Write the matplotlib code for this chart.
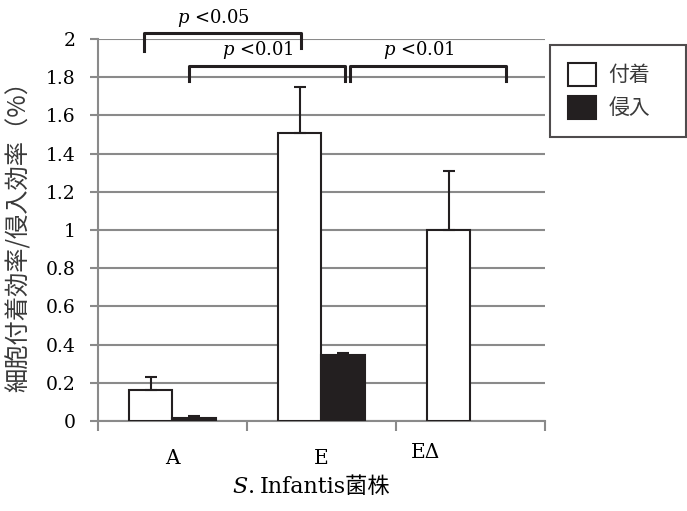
import numpy as np
import matplotlib
matplotlib.use("Agg")
import matplotlib.pyplot as plt
from matplotlib.patches import Patch

plt.rcParams['font.family'] = ['DejaVu Serif', 'Noto Sans CJK JP']
plt.rcParams['mathtext.fontset'] = 'dejavuserif'

# data
strains = ['A', 'E', 'EΔ']
adhesion = [0.165, 1.51, 1.0]
adhesion_err = [0.065, 0.24, 0.31]
invasion = [0.018, 0.344, np.nan]
invasion_err = [0.010, 0.010, np.nan]

# significance brackets: (x left, x right, y top, y legs, label)
brackets = [
    (-0.19, 0.865, 2.03, 1.94, '$p$ <0.05'),
    (0.11, 1.16, 1.86, 1.78, '$p$ <0.01'),
    (1.19, 2.24, 1.86, 1.78, '$p$ <0.01'),
]

grey = '#8a8a8a'
dark = '#231f20'

fig = plt.figure(figsize=(6.87, 5.11), dpi=100)
ax = fig.add_axes([0.1426, 0.176, 0.6507, 0.7475])

x = np.arange(len(strains))
w = 0.29
ax.bar(x - w / 2, adhesion, w, color='white', edgecolor=dark, linewidth=1.5, zorder=3)
ax.bar(x + w / 2, invasion, w, color=dark, edgecolor=dark, linewidth=1.5, zorder=3)
ax.errorbar(x - w / 2, adhesion, yerr=[np.zeros(3), adhesion_err], fmt='none',
            ecolor=dark, elinewidth=1.5, capsize=4.3, capthick=1.5, zorder=4)
ax.errorbar(x + w / 2, invasion, yerr=[np.zeros(3), invasion_err], fmt='none',
            ecolor=dark, elinewidth=1.5, capsize=4.3, capthick=1.5, zorder=4)

ax.set_xlim(-0.5, 2.5)
ax.set_ylim(0, 2)
yt = np.round(np.arange(0, 2.01, 0.2), 1)
ax.set_yticks(yt)
ax.set_yticklabels(['%g' % v for v in yt])
ax.set_xticks([-0.5, 0.5, 1.5, 2.5])
ax.set_xticklabels([])
ax.yaxis.grid(True, color=grey, linewidth=1.5, zorder=0)
ax.set_axisbelow(True)
for s in ['top', 'right']:
    ax.spines[s].set_visible(False)
for s in ['left', 'bottom']:
    ax.spines[s].set_color(grey)
    ax.spines[s].set_linewidth(1.5)
ax.tick_params(axis='y', length=6, width=1.5, color=grey, labelsize=13.5, pad=10)
ax.tick_params(axis='x', length=7, width=1.5, color=grey)

# category labels (EΔ sits a bit left and higher in the original)
lab_x = [0, 1, 1.7]
lab_dy = [-37, -37, -31]
for lx, dy, s in zip(lab_x, lab_dy, strains):
    ax.annotate(s, (lx, 0), xytext=(0, dy), textcoords='offset pixels',
                ha='center', va='center', fontsize=14.5)

# x axis title: italic S. then Infantis菌株
ax.annotate('$S$.', (0.353, 0), xycoords='axes fraction', xytext=(-2, -66),
            textcoords='offset pixels', ha='right', va='center', fontsize=16)
ax.annotate('Infantis菌株', (0.353, 0), xycoords='axes fraction', xytext=(4, -66),
            textcoords='offset pixels', ha='left', va='center', fontsize=16)

ax.set_ylabel('細胞付着効率/侵入効率（%）', fontsize=17.5, labelpad=10,
              family=['Noto Sans CJK JP', 'DejaVu Sans'], color='#3a3a3a')

for x0, x1, ytop, yleg, txt in brackets:
    ax.plot([x0, x0, x1, x1], [yleg, ytop, ytop, yleg + (0.015 if x1 < 1 else 0)],
            color=dark, linewidth=2.2, clip_on=False, zorder=5)
    ax.text((x0 + x1) / 2 - 0.06, ytop + 0.025, txt, ha='center', va='bottom',
            fontsize=13, clip_on=False)

handles = [Patch(facecolor='white', edgecolor=dark, linewidth=1.5, label='付着'),
           Patch(facecolor=dark, edgecolor=dark, linewidth=1.5, label='侵入')]
leg = fig.legend(handles=handles, loc='upper left',
                 bbox_to_anchor=(550 / 687, 1 - 145 / 511, 136 / 687, 100 / 511),
                 mode='expand', frameon=True, fancybox=False, edgecolor=dark,
                 handlelength=1.35, handleheight=1.35, handletextpad=0.6,
                 borderpad=0.85, labelspacing=0.45, borderaxespad=0,
                 prop={'family': 'Noto Sans CJK JP', 'size': 15})
leg.get_frame().set_linewidth(1.5)
for t in leg.get_texts():
    t.set_color('#3a3a3a')

fig.savefig('out.png', dpi=100)
